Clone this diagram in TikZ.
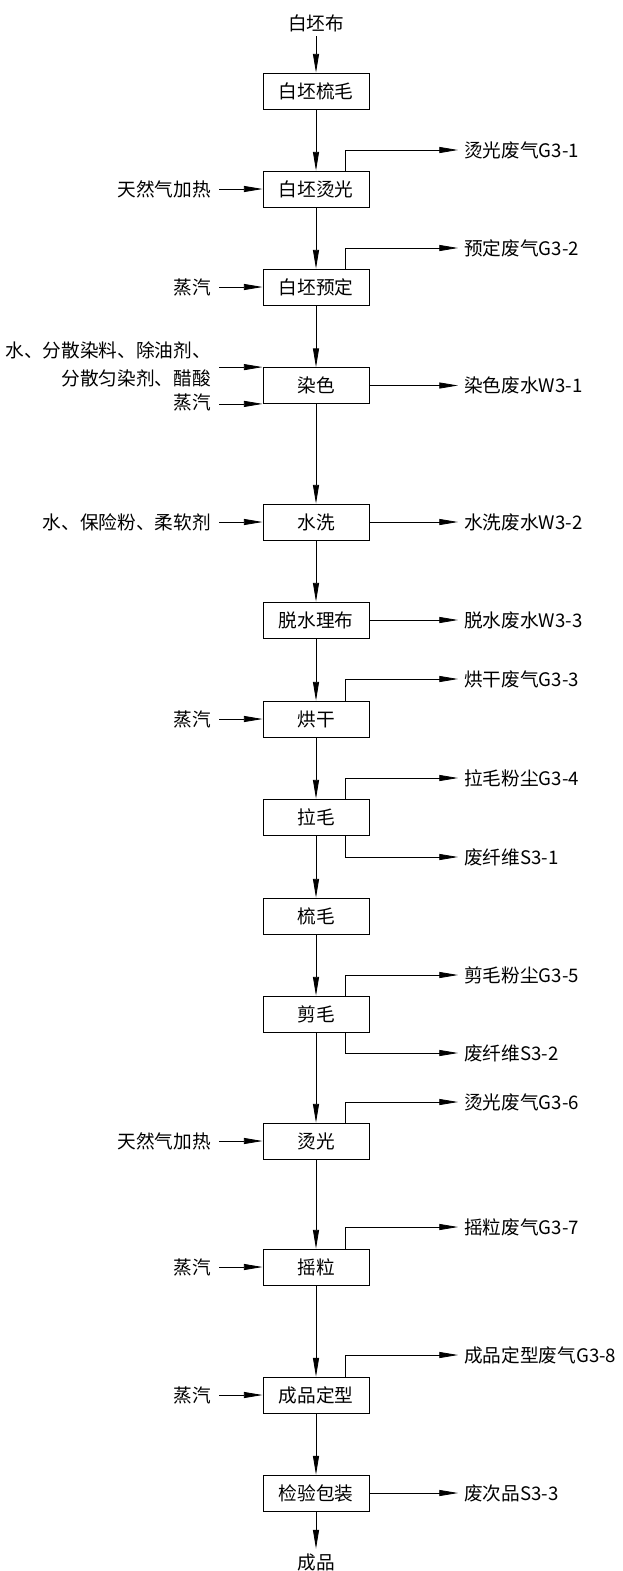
\documentclass[tikz,border=0pt]{standalone}
\usepackage{fontspec}
\setmainfont{Noto Sans CJK SC}
\usetikzlibrary{arrows.meta, positioning}

\newcommand{\lblfont}{\fontsize{14pt}{21pt}\selectfont}

\tikzset{
    every node/.style={font=\lblfont},
    proc/.style={draw, line width=0.6pt, minimum width=79.5pt, minimum height=27pt, inner sep=0pt},
    flow/.style={line width=0.6pt, -{Triangle[length=14pt, width=4.5pt]}},
    outlbl/.style={anchor=west, inner xsep=4.5pt, inner ysep=0pt},
    inlbl/.style={anchor=east, inner xsep=6pt, inner ysep=0pt}
}

\begin{document}
\begin{tikzpicture}[x=0.75pt, y=-0.75pt]
    % Fix the page size
    \useasboundingbox (0,0) rectangle (623,1571);
    % Offset of the side branches from the main line
    \def\bx{21.75pt}

    % Process steps along the main line
    \node (raw) at (316,23) {白坯布};
    \node[proc] (comb) at (316,91) {白坯梳毛};
    \node[proc] (ironw) at (316,189) {白坯烫光};
    \node[proc] (preset) at (316,287) {白坯预定};
    \node[proc] (dye) at (316,385.5) {染色};
    \node[proc] (wash) at (316,522) {水洗};
    \node[proc] (dewater) at (316,620) {脱水理布};
    \node[proc] (dry) at (316,719) {烘干};
    \node[proc] (raise) at (316,817) {拉毛};
    \node[proc] (combf) at (316,916) {梳毛};
    \node[proc] (shear) at (316,1014) {剪毛};
    \node[proc] (iron) at (316,1141) {烫光};
    \node[proc] (shake) at (316,1267) {摇粒};
    \node[proc] (setting) at (316,1395) {成品定型};
    \node[proc] (pack) at (316,1493) {检验包装};
    \node (prod) at (316,1562) {成品};

    % Main flow arrows
    \draw[flow] (raw) -- (comb);
    \draw[flow] (comb) -- (ironw);
    \draw[flow] (ironw) -- (preset);
    \draw[flow] (preset) -- (dye);
    \draw[flow] (dye) -- (wash);
    \draw[flow] (wash) -- (dewater);
    \draw[flow] (dewater) -- (dry);
    \draw[flow] (dry) -- (raise);
    \draw[flow] (raise) -- (combf);
    \draw[flow] (combf) -- (shear);
    \draw[flow] (shear) -- (iron);
    \draw[flow] (iron) -- (shake);
    \draw[flow] (shake) -- (setting);
    \draw[flow] (setting) -- (pack);
    \draw[flow] (pack) -- (prod);

    % Inputs on the left
    \node[inlbl] (gas1) at (219,189) {天然气加热};
    \draw[flow] (gas1.east) -- (ironw.west);
    \node[inlbl] (steam1) at (219,287) {蒸汽};
    \draw[flow] (steam1.east) -- (preset.west);
    \node[inlbl, align=right] (chem) at (219,364) {水、分散染料、除油剂、\\分散匀染剂、醋酸};
    \draw[flow] (chem.east |- dye.north west) -- (dye.north west);
    \node[inlbl] (steam2) at (219,402) {蒸汽};
    \draw[flow] (steam2.east |- dye.south west) -- (dye.south west);
    \node[inlbl] (aux) at (219,522) {水、保险粉、柔软剂};
    \draw[flow] (aux.east) -- (wash.west);
    \node[inlbl] (steam3) at (219,719) {蒸汽};
    \draw[flow] (steam3.east) -- (dry.west);
    \node[inlbl] (gas2) at (219,1141) {天然气加热};
    \draw[flow] (gas2.east) -- (iron.west);
    \node[inlbl] (steam4) at (219,1267) {蒸汽};
    \draw[flow] (steam4.east) -- (shake.west);
    \node[inlbl] (steam5) at (219,1395) {蒸汽};
    \draw[flow] (steam5.east) -- (setting.west);

    % Outputs on the right
    \node[outlbl] (g31) at (458,150) {烫光废气G3-1};
    \draw[flow] ([xshift=\bx]ironw.north) |- (g31.west);
    \node[outlbl] (g32) at (458,248) {预定废气G3-2};
    \draw[flow] ([xshift=\bx]preset.north) |- (g32.west);
    \node[outlbl] (w31) at (458,385.5) {染色废水W3-1};
    \draw[flow] (dye.east) -- (w31.west);
    \node[outlbl] (w32) at (458,522) {水洗废水W3-2};
    \draw[flow] (wash.east) -- (w32.west);
    \node[outlbl] (w33) at (458,620) {脱水废水W3-3};
    \draw[flow] (dewater.east) -- (w33.west);
    \node[outlbl] (g33) at (458,679) {烘干废气G3-3};
    \draw[flow] ([xshift=\bx]dry.north) |- (g33.west);
    \node[outlbl] (g34) at (458,778) {拉毛粉尘G3-4};
    \draw[flow] ([xshift=\bx]raise.north) |- (g34.west);
    \node[outlbl] (s31) at (458,857) {废纤维S3-1};
    \draw[flow] ([xshift=\bx]raise.south) |- (s31.west);
    \node[outlbl] (g35) at (458,975) {剪毛粉尘G3-5};
    \draw[flow] ([xshift=\bx]shear.north) |- (g35.west);
    \node[outlbl] (s32) at (458,1053) {废纤维S3-2};
    \draw[flow] ([xshift=\bx]shear.south) |- (s32.west);
    \node[outlbl] (g36) at (458,1102) {烫光废气G3-6};
    \draw[flow] ([xshift=\bx]iron.north) |- (g36.west);
    \node[outlbl] (g37) at (458,1227) {摇粒废气G3-7};
    \draw[flow] ([xshift=\bx]shake.north) |- (g37.west);
    \node[outlbl] (g38) at (458,1355) {成品定型废气G3-8};
    \draw[flow] ([xshift=\bx]setting.north) |- (g38.west);
    \node[outlbl] (s33) at (458,1493) {废次品S3-3};
    \draw[flow] (pack.east) -- (s33.west);
\end{tikzpicture}
\end{document}
